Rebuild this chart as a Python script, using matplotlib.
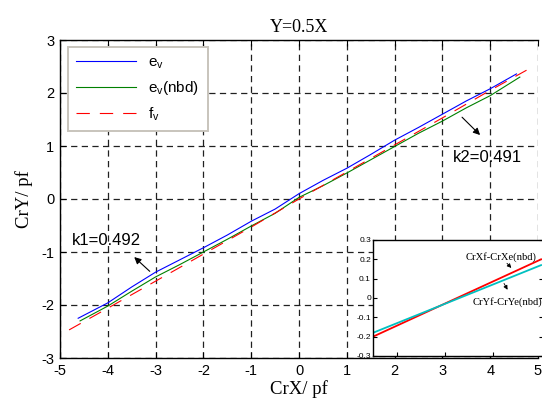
import numpy as np
import matplotlib
matplotlib.use("Agg")
import matplotlib.pyplot as plt

plt.rcParams['font.family'] = ['Liberation Sans', 'DejaVu Sans']
plt.rcParams['mathtext.fontset'] = 'custom'
plt.rcParams['mathtext.rm'] = 'Liberation Sans'
plt.rcParams['mathtext.it'] = 'Liberation Sans'
plt.rcParams['axes.unicode_minus'] = False
plt.rcParams['axes.linewidth'] = 1.0

# measured curves
ev_x = [-4.62, -4, -3.5, -3, -2.5, -2, -1.5, -1, -0.5, 0, 0.5, 1, 1.5, 2, 2.5, 3, 3.5, 4, 4.55]
ev_y = [-2.25, -1.96, -1.66, -1.38, -1.15, -0.92, -0.68, -0.42, -0.19, 0.10, 0.35, 0.58, 0.84, 1.11, 1.35, 1.60, 1.85, 2.08, 2.36]

evn_x = [-4.58, -4, -3.5, -3, -2.5, -2, -1.5, -1, -0.5, 0, 0.5, 1, 1.5, 2, 2.5, 3, 3.5, 4, 4.62]
evn_y = [-2.30, -2.02, -1.74, -1.47, -1.24, -1.00, -0.76, -0.51, -0.27, 0.03, 0.25, 0.49, 0.74, 0.99, 1.24, 1.47, 1.72, 1.95, 2.30]

fv_x = [-4.81, -4, -3, -2, -1, 0, 1, 2, 3, 4, 4.76]
fv_y = [-2.47, -2.06, -1.55, -1.04, -0.53, 0.0, 0.51, 1.02, 1.53, 2.05, 2.43]

# zoomed differences
dx_x = [-1.5, 2.0]
dx_y = [-0.20, 0.20]   # CrXf-CrXe(nbd)
dy_x = [-1.5, 2.0]
dy_y = [-0.18, 0.17]   # CrYf-CrYe(nbd)

xticks = [-5, -4, -3, -2, -1, 0, 1, 2, 3, 4, 5]
yticks = [-3, -2, -1, 0, 1, 2, 3]
inset_yticks = [-0.3, -0.2, -0.1, 0, 0.1, 0.2, 0.3]
inset_ylabels = ['-0.3', '-0.2', '-0.1', '0', '0.1', '0.2', '0.3']

W, H = 542, 412
fig = plt.figure(figsize=(W / 100, H / 100), dpi=100)
ax = fig.add_axes([60 / W, 1 - 358 / H, 478 / W, 318 / H])

ax.plot(ev_x, ev_y, color='#0000ff', lw=0.8, label='e$_\\mathregular{v}$')
ax.plot(evn_x, evn_y, color='#008000', lw=0.8, label='e$_\\mathregular{v}$(nbd)')
ax.plot(fv_x, fv_y, color='#ff0000', lw=0.8, dashes=(12, 9), label='f$_\\mathregular{v}$')

ax.set_xlim(-5, 5)
ax.set_ylim(-3, 3)
ax.set_xticks(xticks)
ax.set_yticks(yticks)
ax.tick_params(direction='in', length=4, top=True, right=False, labelsize=10.5, pad=4)
ax.spines['right'].set_visible(False)
ax.grid(True, color='#202020', lw=0.9, dashes=(5, 3.5))

ax.set_title('Y=0.5X', family='Liberation Serif', fontsize=13, pad=6)
ax.set_xlabel('CrX/ pf', family='Liberation Serif', fontsize=13.5, labelpad=2)
ax.set_ylabel('CrY/ pf', family='Liberation Serif', fontsize=13.5, labelpad=6)

leg = ax.legend(loc='upper left', bbox_to_anchor=(68 / W, 1 - 47 / H),
                bbox_transform=fig.transFigure, borderaxespad=0, fontsize=11,
                handlelength=3.9, labelspacing=0.55, borderpad=0.55,
                fancybox=False, framealpha=1)
leg.get_frame().set_edgecolor('#c8c4bc')
leg.get_frame().set_linewidth(1.4)

arrow = dict(arrowstyle='-|>', color='k', lw=0.8, mutation_scale=10)
ax.annotate('', xy=(-3.49, -1.06), xytext=(-3.08, -1.40), arrowprops=arrow)
ax.text(-4.75, -0.78, 'k1=0.492', fontsize=12, va='center')
ax.annotate('', xy=(3.83, 1.17), xytext=(3.37, 1.58), arrowprops=arrow)
ax.text(3.22, 0.79, 'k2=0.491', fontsize=12, va='center')

# inset with the differences
ins = fig.add_axes([373 / W, 1 - 356 / H, 170 / W, 116 / H])
ins.plot(dx_x, dx_y, color='#ff0000', lw=1.3)
ins.plot(dy_x, dy_y, color='#00c0c0', lw=1.3)
ins.set_xlim(-1.5, 2.04)
ins.set_ylim(-0.3, 0.3)
ins.set_xticks([-1, 0, 1])
ins.set_xticklabels([])
ins.set_yticks(inset_yticks)
ins.set_yticklabels(inset_ylabels)
ins.tick_params(direction='in', length=3, right=True, labelsize=6, pad=1.5)

small_arrow = dict(arrowstyle='-|>', color='k', lw=0.6, mutation_scale=6)
ins.text(1.16, 0.212, 'CrXf-CrXe(nbd)', family='Liberation Serif', fontsize=7.6,
         ha='center', va='center')
ins.annotate('', xy=(1.42, 0.145), xytext=(1.25, 0.19), arrowprops=small_arrow)
ins.text(1.30, -0.022, 'CrYf-CrYe(nbd)', family='Liberation Serif', fontsize=7.6,
         ha='center', va='center')
ins.annotate('', xy=(1.33, 0.03), xytext=(1.2, 0.088), arrowprops=small_arrow)

fig.savefig('out.png', dpi=100)
